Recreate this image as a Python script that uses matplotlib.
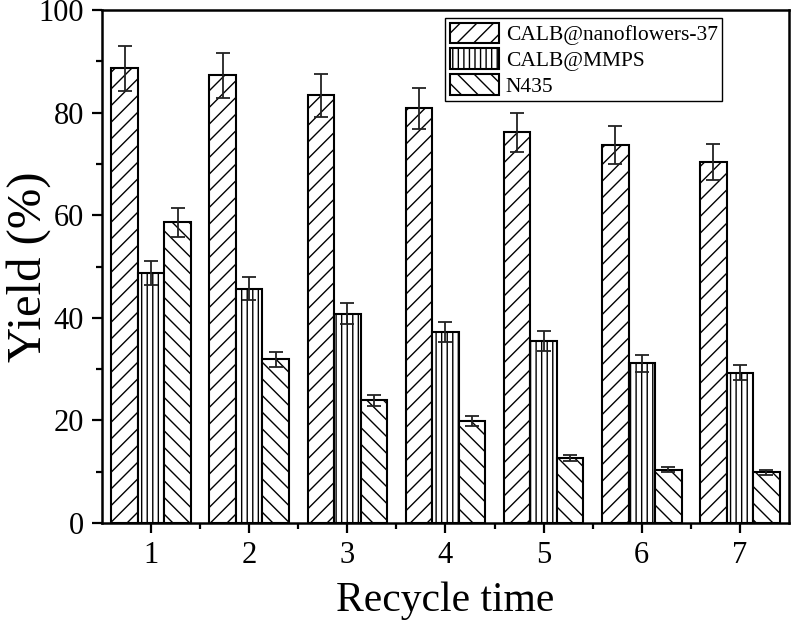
import matplotlib
matplotlib.use("Agg")
import matplotlib.pyplot as plt
import numpy as np

plt.rcParams['font.family'] = ['Liberation Serif', 'DejaVu Serif']
plt.rcParams['hatch.linewidth'] = 1.0
plt.rcParams['hatch.color'] = 'black'

cycles = [1, 2, 3, 4, 5, 6, 7]
series_names = ["CALB@nanoflowers-37", "CALB@MMPS", "N435"]
nano = [88.6, 87.3, 83.4, 80.8, 76.2, 73.7, 70.4]
nano_err = [4.4, 4.4, 4.2, 3.9, 3.8, 3.7, 3.5]
mmps = [48.7, 45.7, 40.8, 37.2, 35.5, 31.1, 29.3]
mmps_err = [2.4, 2.3, 2.1, 1.9, 1.9, 1.6, 1.5]
n435 = [58.6, 31.9, 23.9, 19.9, 12.6, 10.4, 9.9]
n435_err = [2.9, 1.5, 1.1, 0.9, 0.6, 0.5, 0.45]

fig = plt.figure(figsize=(7.91, 6.25), dpi=100)
ax = fig.add_axes([102/791, 1-523/625, 687/791, 513/625])

x = np.array(cycles, dtype=float)
w = 0.27
hatches = ['//', '|||', '\\\\']
data = [(nano, nano_err), (mmps, mmps_err), (n435, n435_err)]
offsets = [-w, 0, w]
for (vals, errs), off, h, name in zip(data, offsets, hatches, series_names):
    ax.bar(x + off, vals, width=w, facecolor='white', edgecolor='black',
           linewidth=1.5, hatch=h, label=name, zorder=2)
    ax.errorbar(x + off, vals, yerr=errs, fmt='none', ecolor='#222222',
                elinewidth=1.3, capsize=5, capthick=1.3, zorder=3)

ax.set_xlim(0.5, 7.5)
ax.set_ylim(0, 100)
ax.set_xticks(cycles)
ax.set_xticklabels([str(c) for c in cycles])
ax.set_xticks(np.arange(1.5, 7.5, 1.0), minor=True)
ax.set_yticks(np.arange(0, 101, 20))
ax.set_yticks(np.arange(10, 100, 20), minor=True)
ax.tick_params(axis='both', which='major', direction='out', length=7, width=1.6,
               labelsize=22, pad=6)
ax.tick_params(axis='both', which='minor', direction='out', length=4, width=1.6)
ax.tick_params(top=False, right=False)
for s in ax.spines.values():
    s.set_linewidth(1.8)

ax.set_xlabel("Recycle time", fontsize=30, labelpad=8)
ax.set_ylabel("Yield (%)", fontsize=35)
ax.yaxis.set_label_coords(-0.074, 0.5)

leg = ax.legend(loc='upper right', bbox_to_anchor=(0.9025, 0.984), fontsize=15.5,
                frameon=True, fancybox=False, edgecolor='black', framealpha=1,
                handlelength=2.3, handleheight=1.1, labelspacing=0.15,
                borderpad=0.2, handletextpad=0.3, borderaxespad=0)
leg.get_frame().set_linewidth(1.0)

fig.savefig("out.png", dpi=100)
